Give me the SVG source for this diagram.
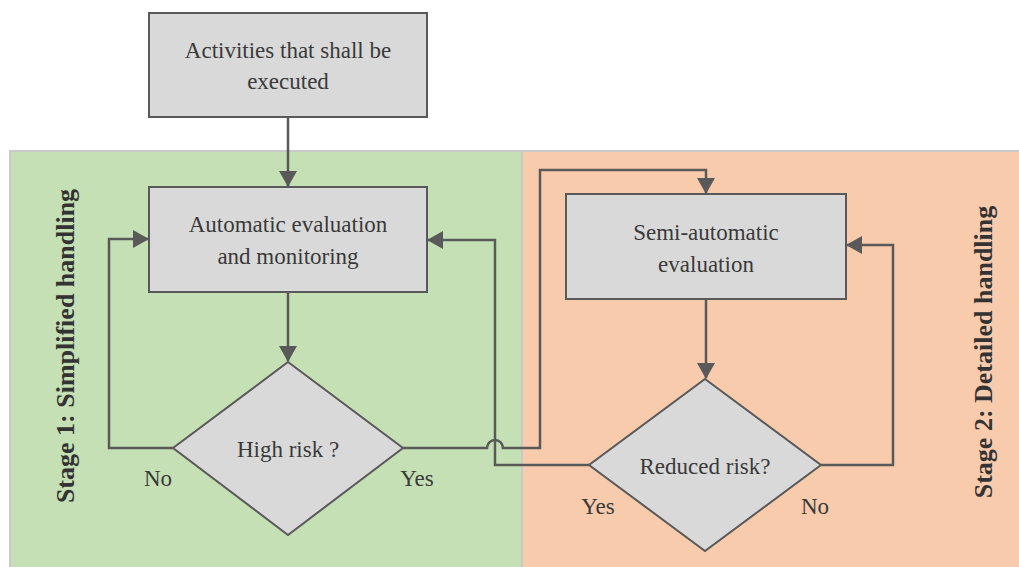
<svg xmlns="http://www.w3.org/2000/svg" width="1019" height="567" viewBox="0 0 1019 567">
  <style>
    .panel { stroke: #c9c9c9; stroke-width: 2; }
    .box { fill: #d9d9d9; stroke: #595959; stroke-width: 2; }
    .txt { font-family: "Liberation Serif", "Tinos", "Times New Roman", "DejaVu Serif", serif; font-size: 23px; fill: #3a3a3a; text-anchor: middle; }
    .stage { font-family: "Liberation Serif", "Tinos", "Times New Roman", "DejaVu Serif", serif; font-size: 26px; font-weight: bold; fill: #333; text-anchor: middle; }
    .conn { fill: none; stroke: #595959; stroke-width: 2.5; }
  </style>
  <defs>
    <marker id="arrow" markerWidth="16" markerHeight="18" refX="15" refY="9" orient="auto" markerUnits="userSpaceOnUse" viewBox="0 0 16 18">
      <path d="M0,0 L16,9 L0,18 z" fill="#595959"/>
    </marker>
  </defs>
  <rect width="1019" height="567" fill="#ffffff"/>

  <!-- stage panels -->
  <g id="stage1">
    <rect class="panel" x="10" y="151" width="512" height="420" fill="#c5e0b4"/>
    <text class="stage" transform="translate(74,346) rotate(-90)">Stage 1: Simplified handling</text>
  </g>
  <g id="stage2">
    <rect class="panel" x="522" y="151" width="500" height="420" fill="#f8cbad"/>
    <text class="stage" transform="translate(992,352) rotate(-90)">Stage 2: Detailed handling</text>
  </g>

  <!-- connectors -->
  <g id="connectors">
    <path class="conn" d="M288,117 V186" marker-end="url(#arrow)"/>
    <path class="conn" d="M288,292 V361" marker-end="url(#arrow)"/>
    <path class="conn" d="M173,448 H109 V239 H148" marker-end="url(#arrow)"/>
    <path class="conn" d="M403,448 H487 A8,8 0 0 1 503,448 H540 V170 H706 V193" marker-end="url(#arrow)"/>
    <path class="conn" d="M589,465 H495 V240 H428" marker-end="url(#arrow)"/>
    <path class="conn" d="M706,299 V378" marker-end="url(#arrow)"/>
    <path class="conn" d="M821,465 H893 V245 H847" marker-end="url(#arrow)"/>
  </g>

  <!-- nodes -->
  <g id="activities">
    <rect class="box" x="149" y="13" width="278" height="104"/>
    <text class="txt" x="288" y="58">Activities that shall be</text>
    <text class="txt" x="288" y="89">executed</text>
  </g>
  <g id="auto-eval">
    <rect class="box" x="149" y="187" width="278" height="105"/>
    <text class="txt" x="288" y="232">Automatic evaluation</text>
    <text class="txt" x="288" y="264">and monitoring</text>
  </g>
  <g id="high-risk">
    <polygon class="box" points="288,362 403,448 288,535 173,448"/>
    <text class="txt" x="288" y="457">High risk ?</text>
  </g>
  <g id="semi-eval">
    <rect class="box" x="566" y="194" width="280" height="105"/>
    <text class="txt" x="706" y="240">Semi-automatic</text>
    <text class="txt" x="706" y="272">evaluation</text>
  </g>
  <g id="reduced-risk">
    <polygon class="box" points="705,379 821,465 705,551 589,465"/>
    <text class="txt" x="705" y="474">Reduced risk?</text>
  </g>

  <!-- branch labels -->
  <g id="labels">
    <text class="txt" x="158" y="486">No</text>
    <text class="txt" x="417" y="486">Yes</text>
    <text class="txt" x="598" y="514">Yes</text>
    <text class="txt" x="815" y="514">No</text>
  </g>
</svg>
